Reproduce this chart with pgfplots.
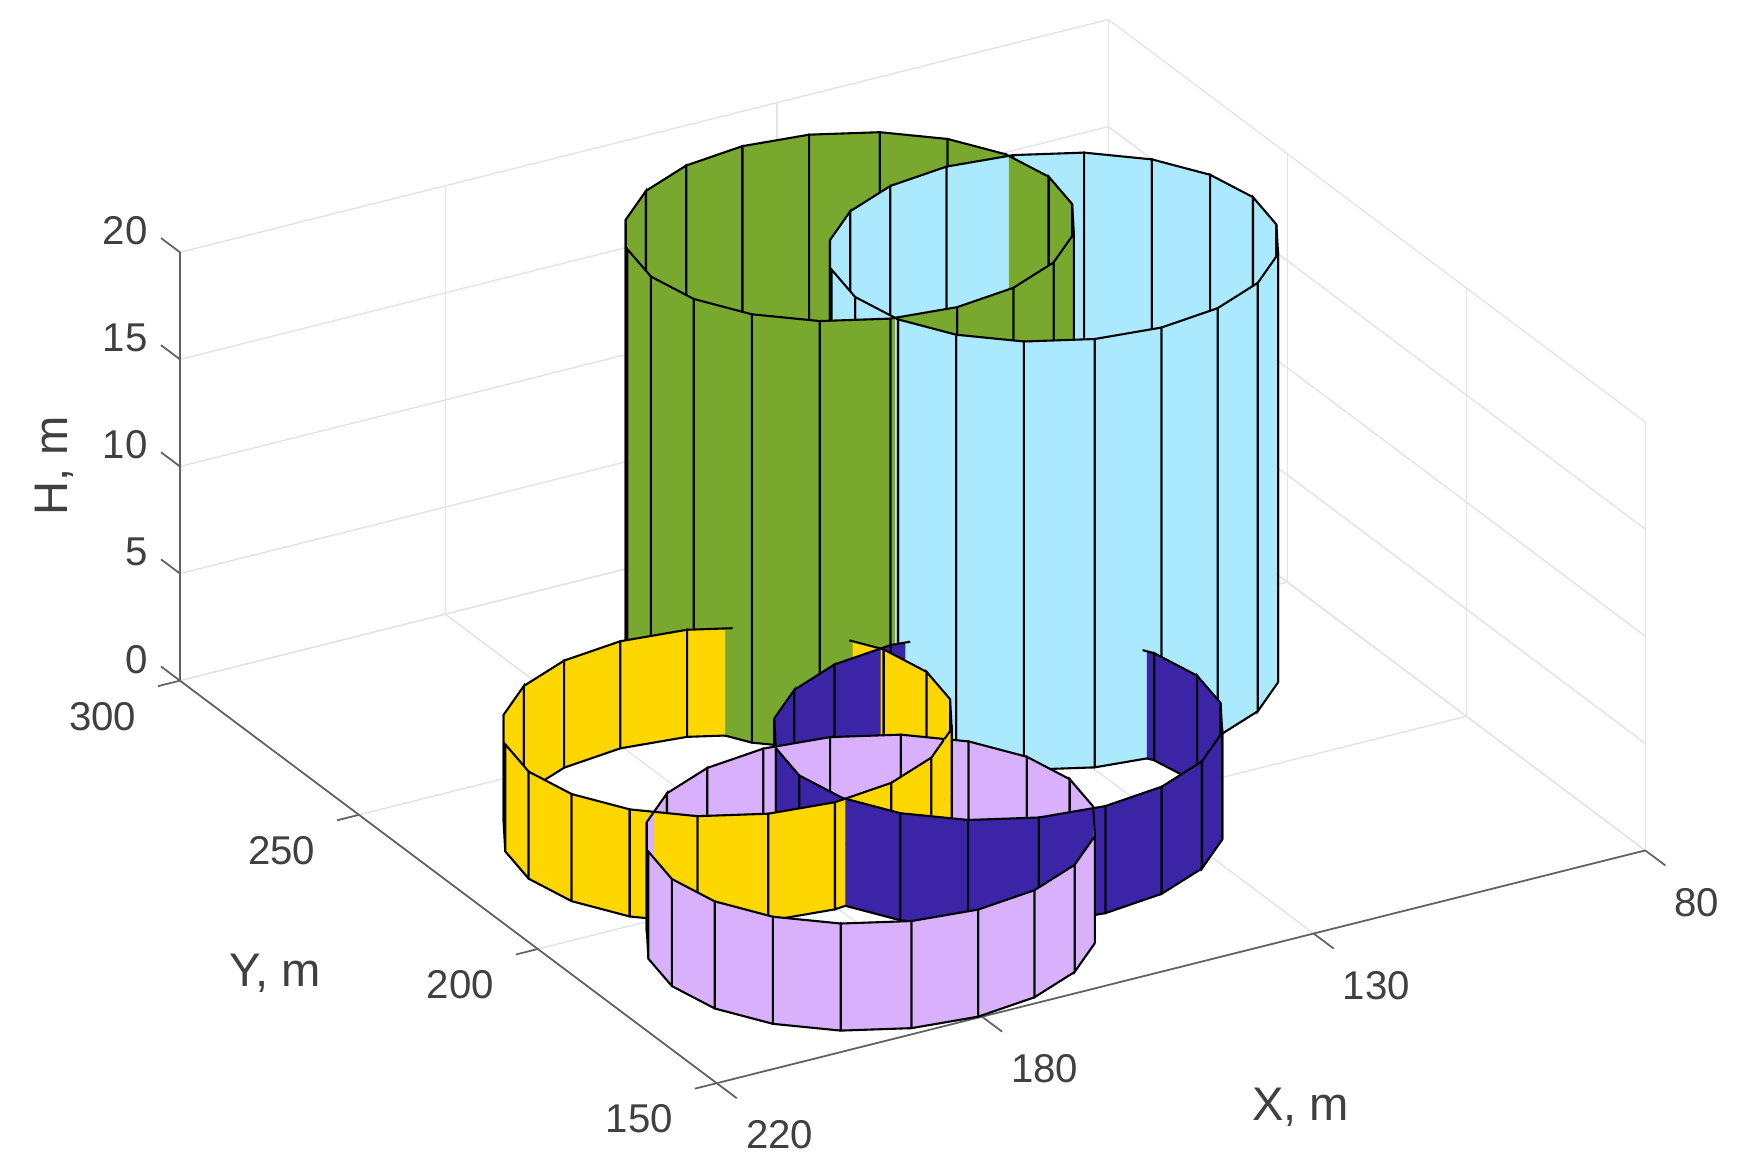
\documentclass[border=0pt]{standalone}
\usepackage{fontspec}
\setmainfont{Liberation Sans}
\usepackage{pgfplots}
\pgfplotsset{compat=1.18}
\definecolor{cG}{HTML}{78A92E}
\definecolor{cB}{HTML}{ABE9FF}
\definecolor{cY}{HTML}{FFD700}
\definecolor{cD}{HTML}{3B24A6}
\definecolor{cL}{HTML}{D8B0FC}
\definecolor{txt}{gray}{0.25}
\definecolor{axc}{gray}{0.38}
\newcommand\lw{0.6pt}
\pgfplotsset{shifted/.style={x filter/.expression={x+0.44},y filter/.expression={y+0.27}}}
\newcommand\F[6]{\addplot3[shifted,draw=black,fill=#1,line width=\lw] coordinates {(#2,#3,0)(#4,#5,0)(#4,#5,#6)(#2,#3,#6)(#2,#3,0)};}
\newcommand\C[6]{\addplot3[shifted,draw=none,fill=#1] coordinates {(#2,#3,0)(#4,#5,0)(#4,#5,#6)(#2,#3,#6)};
\addplot3[shifted,draw=black,line width=\lw] coordinates {(#4,#5,0)(#2,#3,0)(#2,#3,#6)(#4,#5,#6)};}
\newcommand\Dbl[6]{\addplot3[shifted,draw=none,fill=#1] coordinates {(#2,#3,0)(#4,#5,0)(#4,#5,#6)(#2,#3,#6)};
\addplot3[shifted,draw=black,line width=\lw] coordinates {(#2,#3,0)(#4,#5,0)};
\addplot3[shifted,draw=black,line width=\lw] coordinates {(#2,#3,#6)(#4,#5,#6)};}
\newcommand\Tip[4]{\addplot3[shifted,draw=black,line width=\lw] coordinates {(#1,#2,5)(#3,#4,5)};}
\newcommand\Ax[6]{\addplot3[draw=axc,line width=0.5pt] coordinates {(#1,#2,#3)(#4,#5,#6)};}
\begin{document}
\begin{tikzpicture}
\begin{axis}[
 x={(0.06671cm,0.01672cm)},y={(-0.036cm,0.027cm)},z={(0cm,0.21544cm)},
 x dir=reverse,
 xmin=80,xmax=220,ymin=150,ymax=300,zmin=0,zmax=20,
 xtick={80,130,180,220},ytick={150,200,250,300},ztick={0,5,10,15,20},
 clip=false,
 grid=major,
 major grid style={gray!22,line width=0.4pt},
 major tick length=0pt,
 tick style={draw=none},
 axis line style={draw=none},
 ticklabel style={font=\fontsize{11.5}{13}\selectfont,text=txt},
 /pgf/number format/assume math mode=true,
 xticklabel style={anchor=west,xshift=0.17cm,yshift=-0.521cm},
 yticklabel style={anchor=east,xshift=-0.317cm,yshift=-0.362cm},
 zticklabel style={anchor=east,xshift=-0.204cm,yshift=0.215cm},
 xlabel={X, m},ylabel={Y, m},zlabel={H, m},
 every axis x label/.style={at={(axis cs:157.7,102.3,0)},anchor=center,font=\fontsize{13.5}{15}\selectfont,text=txt},
 every axis y label/.style={at={(axis cs:253.4,211.5,0)},anchor=center,font=\fontsize{13.5}{15}\selectfont,text=txt},
 every axis z label/.style={at={(axis cs:220,335,5.64)},anchor=center,rotate=90,font=\fontsize{13.5}{15}\selectfont,text=txt},
]
% axis lines and ticks
\Ax{220}{150}{0}{80}{150}{0}
\Ax{220}{150}{0}{220}{300}{0}
\Ax{220}{300}{0}{220}{300}{20}
\Ax{220}{150}{0}{220}{144.4}{0}
\Ax{180}{150}{0}{180}{144.4}{0}
\Ax{130}{150}{0}{130}{144.4}{0}
\Ax{80}{150}{0}{80}{144.4}{0}
\Ax{220}{150}{0}{223.3}{150}{0}
\Ax{220}{200}{0}{223.3}{200}{0}
\Ax{220}{250}{0}{223.3}{250}{0}
\Ax{220}{300}{0}{223.3}{300}{0}
\Ax{220}{300}{0}{220}{305.3}{0}
\Ax{220}{300}{5}{220}{305.3}{5}
\Ax{220}{300}{10}{220}{305.3}{10}
\Ax{220}{300}{15}{220}{305.3}{15}
\Ax{220}{300}{20}{220}{305.3}{20}
% blue back right
\C{cB}{110.73}{268.53}{111.37}{268.63}{20}
\F{cB}{110.73}{268.53}{102.37}{264.27}{20}
\F{cB}{102.37}{264.27}{95.73}{257.63}{20}
\F{cB}{95.73}{257.63}{91.47}{249.27}{20}
\F{cB}{91.47}{249.27}{90}{240}{20}
\F{cB}{90}{240}{91.47}{230.73}{20}
\F{cB}{91.47}{230.73}{95.73}{222.37}{20}
% green back left
\F{cG}{168.53}{269.27}{164.27}{277.63}{20}
\F{cG}{164.27}{277.63}{157.63}{284.27}{20}
\F{cG}{157.63}{284.27}{149.27}{288.53}{20}
\F{cG}{149.27}{288.53}{140}{290}{20}
\F{cG}{140}{290}{130.73}{288.53}{20}
\F{cG}{130.73}{288.53}{122.37}{284.27}{20}
\F{cG}{122.37}{284.27}{115.73}{277.63}{20}
\F{cG}{115.73}{277.63}{111.47}{269.27}{20}
\C{cG}{111.47}{269.27}{111.37}{268.63}{20}
% blue back left
\F{cB}{148.53}{249.27}{144.27}{257.63}{20}
\F{cB}{144.27}{257.63}{137.63}{264.27}{20}
\F{cB}{137.63}{264.27}{129.27}{268.53}{20}
\F{cB}{129.27}{268.53}{120}{270}{20}
\C{cB}{120}{270}{111.37}{268.63}{20}
% green back right
\C{cG}{110}{260}{111.37}{268.63}{20}
\F{cG}{110}{260}{111.47}{250.73}{20}
\F{cG}{111.47}{250.73}{115.73}{242.37}{20}
% hidden parts of the short rings
\C{cY}{162.37}{244.27}{166.24}{246.24}{5}
\F{cY}{162.37}{244.27}{155.73}{237.63}{5}
\C{cY}{155.73}{237.63}{153.75}{233.75}{5}
\C{cD}{140.73}{228.53}{148.00}{229.68}{5}
\F{cD}{140.73}{228.53}{132.37}{224.27}{5}
\F{cD}{132.37}{224.27}{125.73}{217.63}{5}
\C{cD}{125.73}{217.63}{122.00}{210.32}{5}
% blue front left
\C{cB}{150}{240}{148.63}{231.37}{20}
\F{cB}{150}{240}{148.53}{249.27}{20}
% green front right
\F{cG}{115.73}{242.37}{122.37}{235.73}{20}
\F{cG}{122.37}{235.73}{130.73}{231.47}{20}
\F{cG}{130.73}{231.47}{140}{230}{20}
\C{cG}{140}{230}{148.63}{231.37}{20}
% green front left
\C{cG}{149.27}{231.47}{148.63}{231.37}{20}
\F{cG}{149.27}{231.47}{157.63}{235.73}{20}
\F{cG}{157.63}{235.73}{164.27}{242.37}{20}
\F{cG}{164.27}{242.37}{168.53}{250.73}{20}
\F{cG}{168.53}{250.73}{170}{260}{20}
\F{cG}{170}{260}{168.53}{269.27}{20}
% blue front right
\F{cB}{95.73}{222.37}{102.37}{215.73}{20}
\F{cB}{102.37}{215.73}{110.73}{211.47}{20}
\F{cB}{110.73}{211.47}{120}{210}{20}
\F{cB}{120}{210}{129.27}{211.47}{20}
\F{cB}{129.27}{211.47}{137.63}{215.73}{20}
\F{cB}{137.63}{215.73}{144.27}{222.37}{20}
\F{cB}{144.27}{222.37}{148.53}{230.73}{20}
\C{cB}{148.53}{230.73}{148.63}{231.37}{20}
% short edge tips past the crossings
\Tip{166.24}{246.24}{165.35}{245.79}
\Tip{153.75}{233.75}{153.98}{234.20}
\Tip{148.00}{229.68}{147.31}{229.57}
\Tip{122.00}{210.32}{122.32}{210.94}
% dark back, right of the crossing with yellow
\C{cD}{150}{230}{151.70}{229.73}{5}
\C{cD}{150}{230}{148.00}{229.68}{5}
\C{cD}{121.47}{209.27}{122.00}{210.32}{5}
\F{cD}{121.47}{209.27}{120}{200}{5}
\F{cD}{120}{200}{121.47}{190.73}{5}
\F{cD}{121.47}{190.73}{125.73}{182.37}{5}
% yellow back, left part
\F{cY}{208.53}{229.27}{204.27}{237.63}{5}
\F{cY}{204.27}{237.63}{197.63}{244.27}{5}
\F{cY}{197.63}{244.27}{189.27}{248.53}{5}
\F{cY}{189.27}{248.53}{180}{250}{5}
\F{cY}{180}{250}{170.73}{248.53}{5}
\C{cY}{170.73}{248.53}{166.24}{246.24}{5}
\Dbl{cY}{153.75}{233.75}{151.70}{229.73}{5}
% yellow back, right part
\C{cY}{151.47}{229.27}{151.70}{229.73}{5}
\F{cY}{151.47}{229.27}{150}{220}{5}
\F{cY}{150}{220}{151.47}{210.73}{5}
\F{cY}{151.47}{210.73}{155.73}{202.37}{5}
% dark back, left part
\F{cD}{174.27}{217.63}{167.63}{224.27}{5}
\F{cD}{167.63}{224.27}{159.27}{228.53}{5}
\C{cD}{159.27}{228.53}{151.70}{229.73}{5}
\C{cD}{174.27}{217.63}{178.30}{209.73}{5}
% lilac back
\C{cL}{197.63}{204.27}{201.90}{200}{5}
\F{cL}{197.63}{204.27}{189.27}{208.53}{5}
\F{cL}{189.27}{208.53}{180}{210}{5}
\C{cL}{180}{210}{178.30}{209.73}{5}
\C{cL}{170.73}{208.53}{178.30}{209.73}{5}
\F{cL}{170.73}{208.53}{162.37}{204.27}{5}
\C{cL}{162.37}{204.27}{158.10}{200}{5}
\C{cL}{155.73}{197.63}{158.10}{200}{5}
\F{cL}{155.73}{197.63}{151.47}{189.27}{5}
\F{cL}{151.47}{189.27}{150}{180}{5}
\F{cL}{150}{180}{151.47}{170.73}{5}
\C{cL}{151.47}{170.73}{151.70}{170.27}{5}
% dark front, left
\C{cD}{178.53}{209.27}{178.30}{209.73}{5}
\F{cD}{178.53}{209.27}{180}{200}{5}
\F{cD}{180}{200}{178.53}{190.73}{5}
\C{cD}{178.53}{190.73}{178.30}{190.27}{5}
% yellow front
\F{cY}{210}{220}{208.53}{229.27}{5}
\F{cY}{208.53}{210.73}{210}{220}{5}
\F{cY}{204.27}{202.37}{208.53}{210.73}{5}
\C{cY}{204.27}{202.37}{201.90}{200}{5}
\C{cY}{197.63}{195.73}{201.90}{200}{5}
\F{cY}{189.27}{191.47}{197.63}{195.73}{5}
\F{cY}{180}{190}{189.27}{191.47}{5}
\C{cY}{180}{190}{178.30}{190.27}{5}
\C{cY}{170.73}{191.47}{178.30}{190.27}{5}
\F{cY}{162.37}{195.73}{170.73}{191.47}{5}
\C{cY}{162.37}{195.73}{158.10}{200}{5}
\C{cY}{155.73}{202.37}{158.10}{200}{5}
% dark front, right
\C{cD}{174.27}{182.37}{178.30}{190.27}{5}
\F{cD}{167.63}{175.73}{174.27}{182.37}{5}
\F{cD}{159.27}{171.47}{167.63}{175.73}{5}
\C{cD}{159.27}{171.47}{151.70}{170.27}{5}
\C{cD}{150}{170}{151.70}{170.27}{5}
\F{cD}{140.73}{171.47}{150}{170}{5}
\F{cD}{132.37}{175.73}{140.73}{171.47}{5}
\F{cD}{125.73}{182.37}{132.37}{175.73}{5}
% lilac left and right ends
\F{cL}{208.53}{189.27}{204.27}{197.63}{5}
\C{cL}{204.27}{197.63}{201.90}{200}{5}
\C{cL}{155.73}{162.37}{151.70}{170.27}{5}
% lilac front
\F{cL}{155.73}{162.37}{162.37}{155.73}{5}
\F{cL}{162.37}{155.73}{170.73}{151.47}{5}
\F{cL}{170.73}{151.47}{180}{150}{5}
\F{cL}{180}{150}{189.27}{151.47}{5}
\F{cL}{189.27}{151.47}{197.63}{155.73}{5}
\F{cL}{197.63}{155.73}{204.27}{162.37}{5}
\F{cL}{204.27}{162.37}{208.53}{170.73}{5}
\F{cL}{208.53}{170.73}{210}{180}{5}
\F{cL}{210}{180}{208.53}{189.27}{5}
\coordinate (bbA) at (axis cs:137.77,502.7,0);
\coordinate (bbB) at (axis cs:115.9,52.8,0);
\end{axis}
\pgfresetboundingbox
\useasboundingbox (bbA) rectangle (bbB);
\end{tikzpicture}
\end{document}
